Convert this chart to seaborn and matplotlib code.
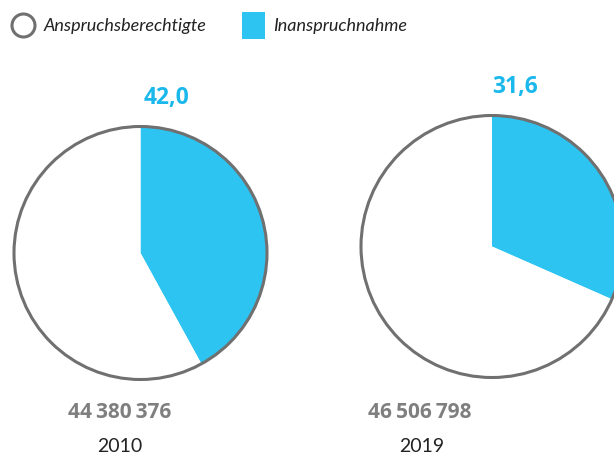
import matplotlib
matplotlib.use("Agg")
import matplotlib.pyplot as plt
from matplotlib.patches import Circle, Rectangle
import seaborn as sns

# ---- data ----
years = ["2010", "2019"]
shares = [42.0, 31.6]                 # Inanspruchnahme in %
share_labels = ["42,0", "31,6"]
eligible = ["44\u2009380\u2009376", "46\u2009506\u2009798"]
legend_labels = ["Anspruchsberechtigte", "Inanspruchnahme"]

BLUE = "#2DC4F2"
LABEL_BLUE = "#1BB8EC"
GRAY = "#707070"
NUM_GRAY = "#7F7F7F"

sns.set_theme(style="white")
plt.rcParams["font.family"] = ["Lato", "DejaVu Sans"]
BOLD_FAMILY = ["Open Sans", "DejaVu Sans"]

W, H = 614, 458
fig = plt.figure(figsize=(W / 100, H / 100), dpi=100)
ax = fig.add_axes([0, 0, 1, 1])
ax.set_xlim(0, W)
ax.set_ylim(0, H)
ax.set_aspect("equal")
ax.axis("off")

# layout (pixel coordinates, y from top)
centers = [(140.5, 253), (492, 246.5)]
radii = [126.5, 131]
share_pos = [(167, 98), (515, 87)]
num_pos = [(120, 412), (420, 412)]
year_pos = [(120, 446), (422, 446)]

for i, yr in enumerate(years):
    cx, cy = centers[i]
    r = radii[i]
    ax.pie([shares[i], 100 - shares[i]], colors=[BLUE, "white"],
           startangle=90, counterclock=False, center=(cx, H - cy), radius=r,
           wedgeprops=dict(linewidth=0), frame=True)
    ax.add_patch(Circle((cx, H - cy), r, fill=False, edgecolor=GRAY, lw=2.2, zorder=5))
    ax.text(share_pos[i][0], H - share_pos[i][1], share_labels[i], color=LABEL_BLUE,
            fontsize=16.5, fontweight="bold", family=BOLD_FAMILY, ha="center", va="center")
    ax.text(num_pos[i][0], H - num_pos[i][1], eligible[i], color=NUM_GRAY,
            fontsize=15, fontweight="bold", family=BOLD_FAMILY, ha="center", va="center")
    ax.text(year_pos[i][0], H - year_pos[i][1], yr, color="#222222",
            fontsize=14, ha="center", va="center")

ax.set_xlim(0, W)
ax.set_ylim(0, H)
ax.axis("off")

# legend
ax.add_patch(Circle((23.5, H - 25.5), 11.5, fill=False, edgecolor=GRAY, lw=2.2, clip_on=False))
ax.text(44, H - 25.5, legend_labels[0], fontsize=13, style="italic", color="#222222",
        ha="left", va="center")
ax.add_patch(Rectangle((242, H - 39), 23, 27, facecolor=BLUE, edgecolor="none"))
ax.text(273, H - 25.5, legend_labels[1], fontsize=13, style="italic", color="#222222",
        ha="left", va="center")

fig.savefig("out.png", dpi=100)
